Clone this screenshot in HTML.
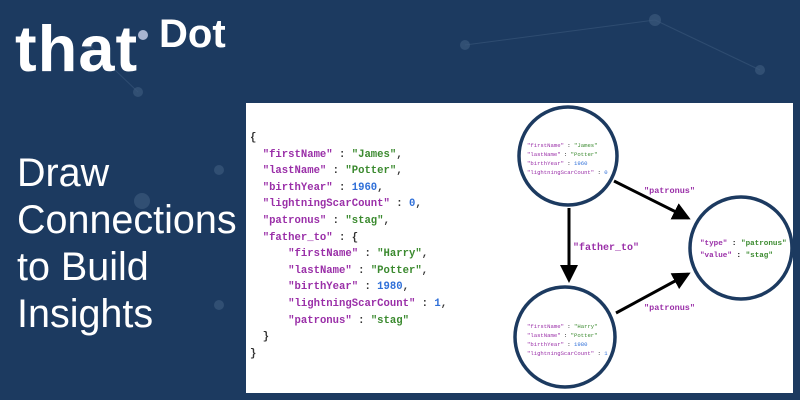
<!DOCTYPE html>
<html><head><style>
body{margin:0;width:800px;height:400px;overflow:hidden;background:#1c3a60;font-family:"Liberation Sans",sans-serif;position:relative}
.t{position:absolute;color:#fff}
.code{position:absolute;left:250px;top:130px;font-family:"Liberation Mono",monospace;font-size:10.6px;line-height:16.6px;color:#333;white-space:pre;font-weight:bold}
.k{color:#9a2fa8}.s{color:#3b8a2f}.n{color:#2f6fd8}
</style></head><body>
<svg width="800" height="400" style="position:absolute;left:0;top:0">
<g fill="#3b587c" opacity="0.7"><circle cx="88" cy="44" r="5"/><circle cx="138" cy="92" r="5"/><circle cx="142" cy="201" r="8"/><circle cx="219" cy="170" r="5"/><circle cx="219" cy="305" r="5"/><circle cx="465" cy="45" r="5"/><circle cx="655" cy="20" r="6"/><circle cx="760" cy="70" r="5"/></g>
<g stroke="#3b587c" stroke-width="1" opacity="0.6"><line x1="88" y1="44" x2="138" y2="92"/><line x1="465" y1="45" x2="655" y2="20"/><line x1="655" y1="20" x2="760" y2="70"/></g>
</svg>
<div class="t" style="left:15px;top:11px;font-size:65px;font-weight:bold;letter-spacing:1px">that</div>
<div style="position:absolute;left:138px;top:30px;width:10px;height:10px;border-radius:50%;background:#a8b4d0"></div>
<div class="t" style="left:159px;top:12px;font-size:40px;font-weight:bold">Dot</div>
<div class="t" style="left:17px;top:150px;font-size:39.5px;line-height:47px">Draw<br>Connections<br>to Build<br>Insights</div>
<div style="position:absolute;left:246px;top:103px;width:547px;height:290px;background:#fff"></div>
<div class="code">{
  <span class="k">"firstName"</span> : <span class="s">"James"</span>,
  <span class="k">"lastName"</span> : <span class="s">"Potter"</span>,
  <span class="k">"birthYear"</span> : <span class="n">1960</span>,
  <span class="k">"lightningScarCount"</span> : <span class="n">0</span>,
  <span class="k">"patronus"</span> : <span class="s">"stag"</span>,
  <span class="k">"father_to"</span> : {
      <span class="k">"firstName"</span> : <span class="s">"Harry"</span>,
      <span class="k">"lastName"</span> : <span class="s">"Potter"</span>,
      <span class="k">"birthYear"</span> : <span class="n">1980</span>,
      <span class="k">"lightningScarCount"</span> : <span class="n">1</span>,
      <span class="k">"patronus"</span> : <span class="s">"stag"</span>
  }
}</div>
<svg width="800" height="400" style="position:absolute;left:0;top:0" font-family="Liberation Mono,monospace">
<defs><marker id="a" markerWidth="6" markerHeight="6" refX="5" refY="3" orient="auto" markerUnits="strokeWidth"><path d="M0,0 L6,3 L0,6 z" fill="#000"/></marker></defs>
<g fill="none" stroke="#1c3a60" stroke-width="3.5">
<circle cx="568" cy="156" r="49"/><circle cx="565" cy="337" r="50"/><circle cx="741" cy="248" r="51"/></g>
<g stroke="#000" stroke-width="3">
<line x1="569" y1="208" x2="569" y2="280" marker-end="url(#a)"/>
<line x1="614" y1="181" x2="688" y2="218" marker-end="url(#a)"/>
<line x1="616" y1="313" x2="688" y2="274" marker-end="url(#a)"/></g>
<g font-size="8.5" font-weight="bold">
<text x="644" y="193" fill="#9a2fa8">"patronus"</text>
<text x="644" y="310" fill="#9a2fa8">"patronus"</text>
<text x="573" y="250" fill="#9a2fa8" font-size="10">"father_to"</text>
<text x="700" y="245" font-size="7.6"><tspan fill="#9a2fa8">"type"</tspan> : <tspan fill="#3b8a2f">"patronus"</tspan></text>
<text x="700" y="257" font-size="7.6"><tspan fill="#9a2fa8">"value"</tspan> : <tspan fill="#3b8a2f">"stag"</tspan></text>
</g>
<g font-size="5.6">
<text x="527" y="147"><tspan fill="#9a2fa8">"firstName"</tspan> : <tspan fill="#3b8a2f">"James"</tspan></text>
<text x="527" y="156"><tspan fill="#9a2fa8">"lastName"</tspan> : <tspan fill="#3b8a2f">"Potter"</tspan></text>
<text x="527" y="165"><tspan fill="#9a2fa8">"birthYear"</tspan> : <tspan fill="#2f6fd8">1960</tspan></text>
<text x="527" y="174"><tspan fill="#9a2fa8">"lightningScarCount"</tspan> : <tspan fill="#2f6fd8">0</tspan></text>
<text x="527" y="328"><tspan fill="#9a2fa8">"firstName"</tspan> : <tspan fill="#3b8a2f">"Harry"</tspan></text>
<text x="527" y="337"><tspan fill="#9a2fa8">"lastName"</tspan> : <tspan fill="#3b8a2f">"Potter"</tspan></text>
<text x="527" y="346"><tspan fill="#9a2fa8">"birthYear"</tspan> : <tspan fill="#2f6fd8">1980</tspan></text>
<text x="527" y="355"><tspan fill="#9a2fa8">"lightningScarCount"</tspan> : <tspan fill="#2f6fd8">1</tspan></text>
</g>
</svg>
</body></html>
